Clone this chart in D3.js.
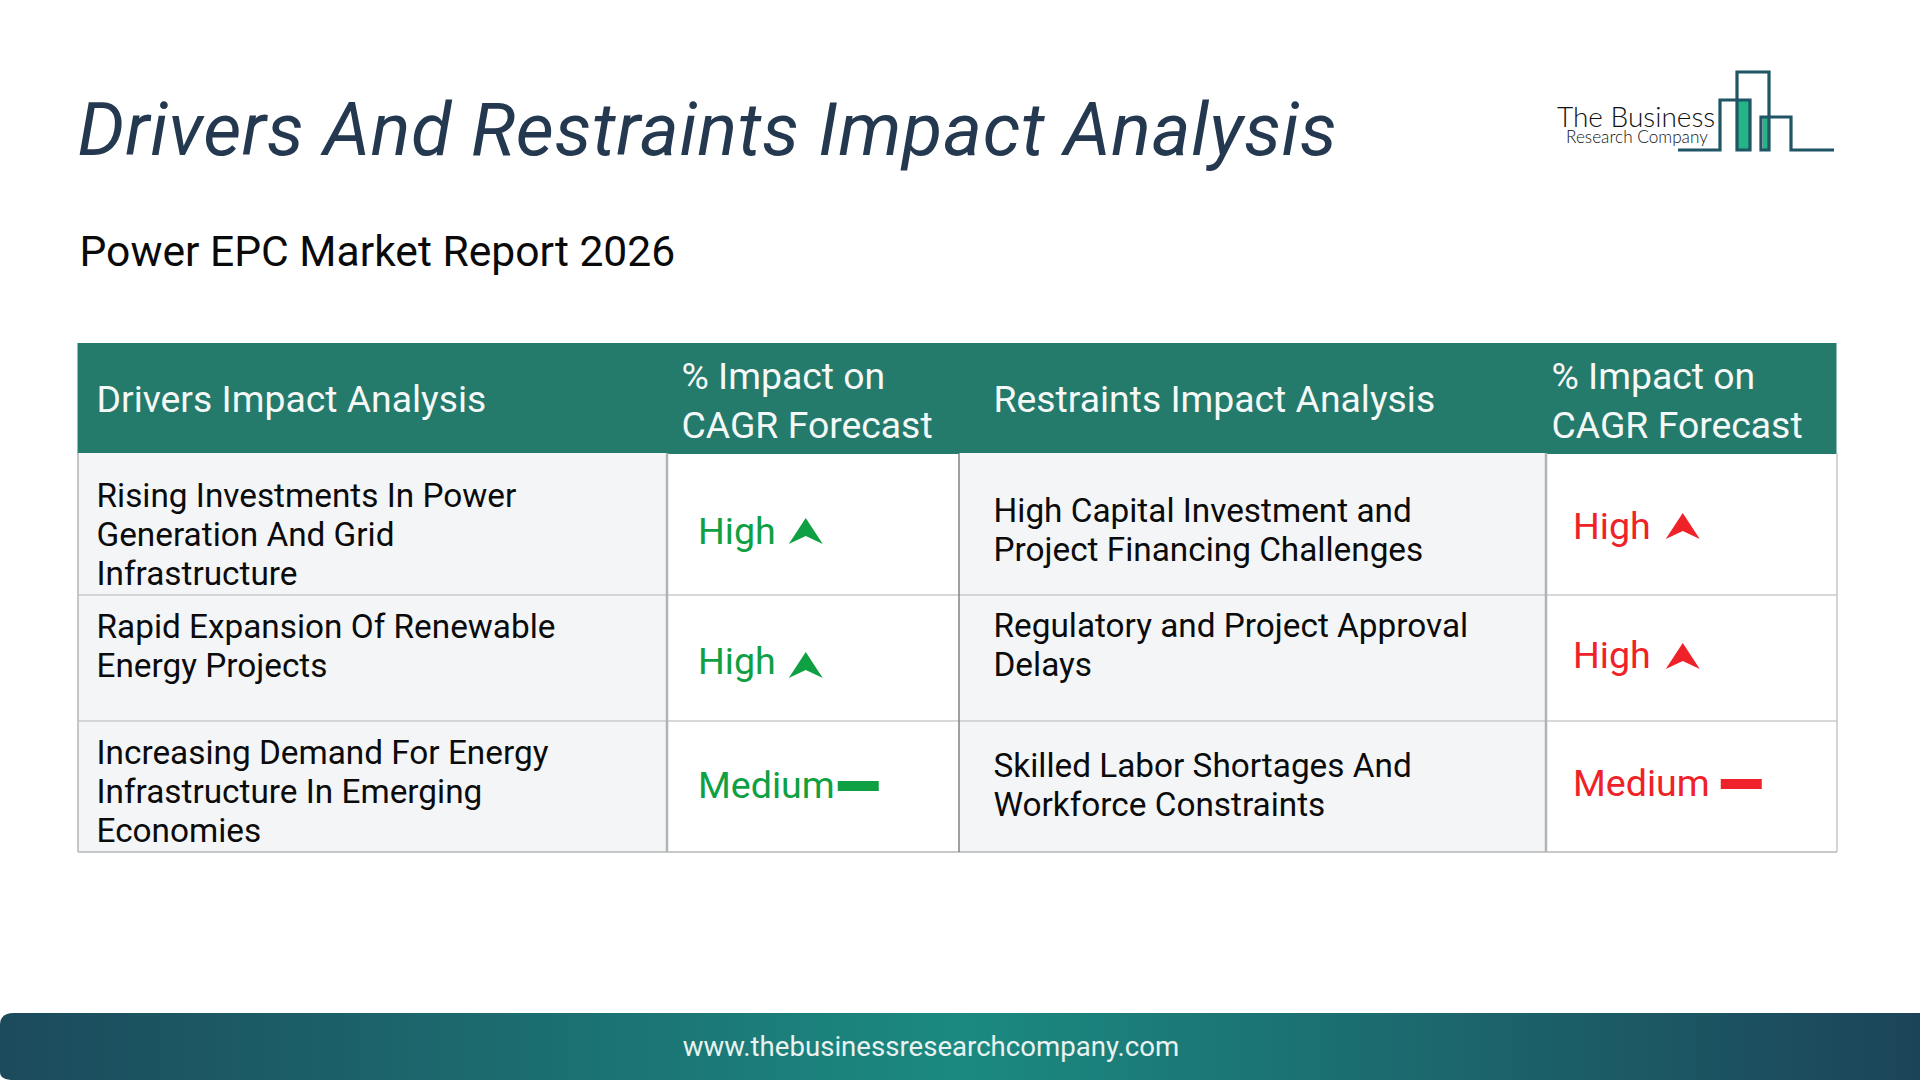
<!DOCTYPE html>
<html><head><meta charset="utf-8">
<script src="https://cdn.jsdelivr.net/npm/d3@7/dist/d3.min.js"></script>
<style>html,body{margin:0;padding:0;background:#fff;overflow:hidden}svg{display:block}text{font-family:Roboto,sans-serif}</style>
</head><body><svg id="c" width="1920" height="1080"></svg>
<script>
const titleText = "Drivers And Restraints Impact Analysis";
const subtitleText = "Power EPC Market Report 2026";
const footerText = "www.thebusinessresearchcompany.com";
const headerLabels = [["Drivers Impact Analysis"],["% Impact on","CAGR Forecast"],["Restraints Impact Analysis"],["% Impact on","CAGR Forecast"]];
const driverLines = [["Rising Investments In Power","Generation And Grid","Infrastructure"],["Rapid Expansion Of Renewable","Energy Projects"],["Increasing Demand For Energy","Infrastructure In Emerging","Economies"]];
const driverLevels = ["High","High","Medium"];
const restraintLines = [["High Capital Investment and","Project Financing Challenges"],["Regulatory and Project Approval","Delays"],["Skilled Labor Shortages And","Workforce Constraints"]];
const restraintLevels = ["High","High","Medium"];

// layout
const colX = [78,667,959,1546,1837];
const rowY = [453,595,721,852];
const hdrTop = 343;
const driverTextY = [[507,546,585],[638,677],[764,803,842]];
const restraintTextY = [[522,561],[637,676],[777,816]];
const driverLvlY = [544,674,798];
const restLvlY = [539,668,796];
const driverArrowDy = [0,4,0];
const restArrowDy = [0,1,0];
const GREEN="#0ea043", RED="#ee2228";

const svg=d3.select("#c");
const defs=svg.append("defs");
const g=defs.append("linearGradient").attr("id","fg");
[[0,"#1c4a5c"],[0.5,"#1b8a80"],[1,"#1c4459"]].forEach(s=>g.append("stop").attr("offset",s[0]).attr("stop-color",s[1]));
svg.append("rect").attr("width",1920).attr("height",1080).attr("fill","#fff");

// title
svg.append("text").attr("x",77.5).attr("y",155).attr("font-size",74).attr("font-style","italic").attr("letter-spacing",0.63).attr("fill","#24394f").text(titleText);
svg.append("text").attr("x",79.5).attr("y",266).attr("font-size",42.6).attr("fill","#0a0a0a").text(subtitleText);

// logo
const lg=svg.append("g").attr("fill","none").attr("stroke","#1f5565").attr("stroke-width",3.2);
lg.append("rect").attr("x",1737).attr("y",101).attr("width",13).attr("height",49).attr("fill","#23b585").attr("stroke","none");
lg.append("rect").attr("x",1763).attr("y",118).attr("width",7).attr("height",32).attr("fill","#23b585").attr("stroke","none");
const lp=d3.path();
lp.moveTo(1678,150);lp.lineTo(1720,150);lp.lineTo(1720,100);lp.lineTo(1750,100);lp.lineTo(1750,150);lp.lineTo(1737,150);lp.lineTo(1737,72);lp.lineTo(1769,72);lp.lineTo(1769,150);lp.lineTo(1761,150);lp.lineTo(1761,117);lp.lineTo(1791,117);lp.lineTo(1791,150);lp.lineTo(1834,150);
lg.append("path").attr("d",lp.toString());
svg.append("text").attr("x",1557).attr("y",127).attr("font-size",28).attr("font-weight",300).attr("fill","#111").style("font-family","Lato").text("The Business");
svg.append("text").attr("x",1566).attr("y",143).attr("font-size",17.2).attr("font-weight",300).attr("fill","#111").style("font-family","Lato").text("Research Company");

// header
svg.append("rect").attr("x",colX[0]-0.5).attr("y",hdrTop).attr("width",colX[4]-colX[0]).attr("height",rowY[0]-hdrTop+1).attr("fill","#247a6b");
const hdrX=[96.5,681.5,993.5,1551.5];
headerLabels.forEach((ls,i)=>{
  const ys=ls.length===2?[389,438]:[412];
  ls.forEach((t,j)=>svg.append("text").attr("x",hdrX[i]).attr("y",ys[j]).attr("font-size",37.35).attr("fill","#f4f8f7").text(t));
});

// body bands
[[0,1],[2,3]].forEach(([a,b])=>svg.append("rect").attr("x",colX[a]).attr("y",rowY[0]).attr("width",colX[b]-colX[a]).attr("height",rowY[3]-rowY[0]).attr("fill","#f3f5f7"));

// body text
const bodyText=(lines,ys,x)=>lines.forEach((ls,i)=>ls.forEach((t,j)=>svg.append("text").attr("x",x).attr("y",ys[i][j]).attr("font-size",33.35).attr("fill","#0b0b0b").text(t)));
bodyText(driverLines,driverTextY,96.5);
bodyText(restraintLines,restraintTextY,993.5);

// level cells
function mark(x,base,level,color,gap,dy){
  const tx=svg.append("text").attr("x",x).attr("y",base).attr("font-size",37.6).attr("fill",color).text(level);
  const end=x+tx.node().getComputedTextLength()+gap;
  if(level==="High"){
    const p=d3.path();const ax=end+17, t=base-26+dy;
    p.moveTo(ax,t);p.lineTo(ax+17,t+26);p.lineTo(ax,t+18);p.lineTo(ax-17,t+26);p.closePath();
    svg.append("path").attr("d",p.toString()).attr("fill",color);
  } else {
    svg.append("rect").attr("x",end).attr("y",base-17).attr("width",41).attr("height",10).attr("fill",color);
  }
}
driverLevels.forEach((l,i)=>mark(698,driverLvlY[i],l,GREEN,l==="High"?13:3,driverArrowDy[i]));
restraintLevels.forEach((l,i)=>mark(1573,restLvlY[i],l,RED,l==="High"?15:11,restArrowDy[i]));

// grid
const line=(x1,y1,x2,y2,c,w)=>svg.append("line").attr("x1",x1).attr("y1",y1).attr("x2",x2).attr("y2",y2).attr("stroke",c).attr("stroke-width",w);
[rowY[1],rowY[2]].forEach(y=>line(colX[0],y,colX[4],y,"#c9cbcd",1.5));
line(colX[0],rowY[3],colX[4],rowY[3],"#b4b6b8",1.5);
line(colX[0],rowY[0],colX[0],rowY[3],"#b4b6b8",1.5);
line(colX[1],rowY[0],colX[1],rowY[3],"#b0b2b4",2.5);
line(colX[2],rowY[0],colX[2],rowY[3],"#808284",1.5);
line(colX[3],rowY[0],colX[3],rowY[3],"#b0b2b4",2.5);
line(colX[4],rowY[0],colX[4],rowY[3],"#c4c6c8",1.5);

// footer
const fp=d3.path();
fp.moveTo(0,1025);fp.quadraticCurveTo(0,1013,14,1013);fp.lineTo(1920,1013);fp.lineTo(1920,1080);fp.lineTo(14,1080);fp.quadraticCurveTo(0,1080,0,1072);fp.closePath();
svg.append("path").attr("d",fp.toString()).attr("fill","url(#fg)");
svg.append("text").attr("x",931).attr("y",1056).attr("text-anchor","middle").attr("font-size",27.6).attr("fill","#e9f2f1").text(footerText);
</script></body></html>
